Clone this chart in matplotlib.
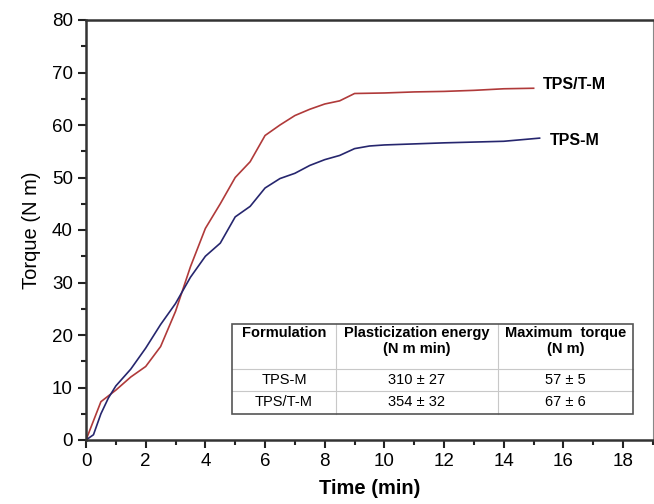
import matplotlib
matplotlib.use('Agg')
import matplotlib.pyplot as plt
from matplotlib.patches import Rectangle
from matplotlib.ticker import MultipleLocator

plt.rcParams['font.family'] = ['Liberation Sans', 'DejaVu Sans']

# TPS/T-M torque curve
t_tm = [0, 0.5, 1, 1.5, 2, 2.5, 3, 3.5, 4, 4.5, 5, 5.5, 6, 6.5, 7, 7.5, 8, 8.5, 9,
        10, 11, 12, 13, 14, 15]
q_tm = [0, 7.3, 9.5, 12, 14, 17.8, 24.5, 33, 40.3, 45, 50, 53, 58, 60, 61.8, 63, 64, 64.6, 66,
        66.1, 66.3, 66.4, 66.6, 66.9, 67]

# TPS-M torque curve
t_m = [0, 0.25, 0.5, 0.75, 1, 1.5, 2, 2.5, 3, 3.5, 4, 4.5, 5, 5.5, 6, 6.5, 7, 7.5, 8, 8.5, 9,
       9.5, 10, 12, 14, 15.2]
q_m = [0, 1, 5, 8, 10.3, 13.5, 17.5, 22, 26, 31, 35, 37.5, 42.5, 44.5, 48, 49.8, 50.8, 52.3, 53.4, 54.2, 55.5,
       56, 56.2, 56.6, 56.9, 57.5]

col_labels = ['Formulation', 'Plasticization energy\n(N m min)', 'Maximum  torque\n(N m)']
formulations = ['TPS-M', 'TPS/T-M']
plast_energy = ['310 ± 27', '354 ± 32']
max_torque = ['57 ± 5', '67 ± 6']

fig = plt.figure(figsize=(6.54, 5.04), dpi=100)
ax = fig.add_axes([86/654, 64/504, 567/654, 420/504])

ax.plot(t_tm, q_tm, color='#b03a3a', lw=1.2)
ax.plot(t_m, q_m, color='#26266e', lw=1.2)

ax.text(15.3, q_tm[-1] + 0.8, 'TPS/T-M', fontsize=11.5, fontweight='bold', va='center')
ax.text(15.55, q_m[-1] - 0.5, 'TPS-M', fontsize=11.5, fontweight='bold', va='center')

ax.set_xlim(0, 19)
ax.set_ylim(0, 80)
ax.xaxis.set_major_locator(MultipleLocator(2))
ax.xaxis.set_minor_locator(MultipleLocator(1))
ax.yaxis.set_major_locator(MultipleLocator(10))
ax.yaxis.set_minor_locator(MultipleLocator(5))
ax.tick_params(which='major', direction='out', length=6, width=1.5, labelsize=13.5, colors='#222222')
ax.tick_params(which='minor', direction='out', length=3.5, width=1.5, colors='#222222')
ax.tick_params(labelcolor='black')

for s in ['left', 'bottom', 'top']:
    ax.spines[s].set_linewidth(1.8)
    ax.spines[s].set_color('#333333')
ax.spines['right'].set_linewidth(0.8)
ax.spines['right'].set_color('#888888')

ax.set_xlabel('Time (min)', fontsize=14.5, fontweight='bold', labelpad=6)
ax.set_ylabel('Torque (N m)', fontsize=14.5, labelpad=8)

# table, drawn in axes coordinates (pixel layout of the reference)
W, H = 567, 420
def ax_x(px):
    return (px - 86) / W
def ax_y(py):
    return (440 - py) / H

col_edges = [232, 336, 498, 633]
row_edges = [324, 369, 391, 414]
tr = ax.transAxes
for xe in col_edges[1:-1]:
    ax.plot([ax_x(xe)] * 2, [ax_y(row_edges[0]), ax_y(row_edges[-1])], transform=tr,
            color='#c8c8c8', lw=0.8, zorder=9)
for ye in row_edges[1:-1]:
    ax.plot([ax_x(col_edges[0]), ax_x(col_edges[-1])], [ax_y(ye)] * 2, transform=tr,
            color='#c8c8c8', lw=0.8, zorder=9)
ax.add_patch(Rectangle((ax_x(232), ax_y(414)), ax_x(633) - ax_x(232), ax_y(324) - ax_y(414),
                       transform=tr, fill=False, edgecolor='#555555', lw=1.2, zorder=10))

centers = [(col_edges[i] + col_edges[i + 1]) / 2 for i in range(3)]
for cx, lab in zip(centers, col_labels):
    ax.text(ax_x(cx), ax_y(326), lab, transform=tr, ha='center', va='top',
            fontsize=10.5, fontweight='bold', linespacing=1.15)
for ri, row in enumerate(zip(formulations, plast_energy, max_torque)):
    cy = (row_edges[ri + 1] + row_edges[ri + 2]) / 2
    for cx, val in zip(centers, row):
        ax.text(ax_x(cx), ax_y(cy), val, transform=tr, ha='center', va='center', fontsize=10.5)

plt.savefig('out.png', dpi=100)
